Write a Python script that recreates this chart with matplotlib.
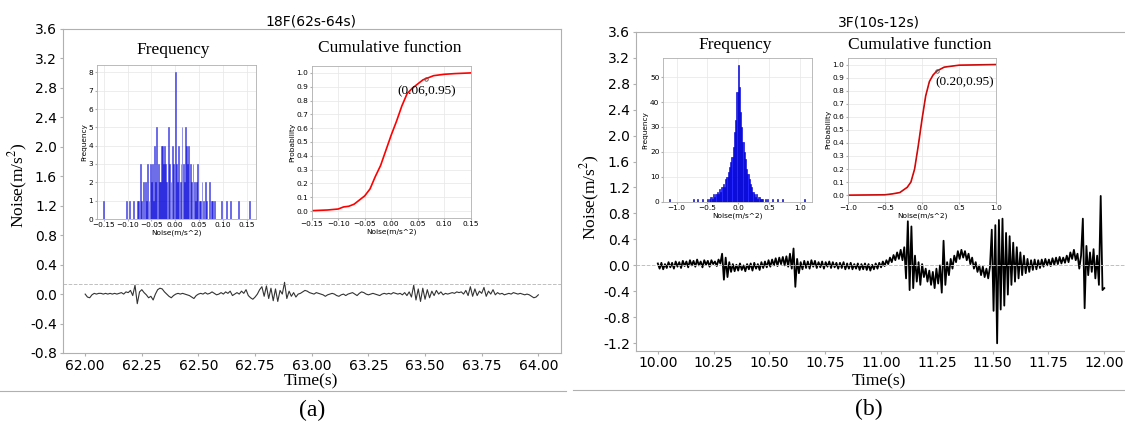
import matplotlib
matplotlib.use("Agg")
import matplotlib.pyplot as plt
import numpy as np
from matplotlib.lines import Line2D

plt.rcParams['mathtext.fontset'] = 'stix'

# ---- datos panel (a): 18F, 62s-64s ----
t0_a = 62.0
dt_a = 0.01
ruido_a = [0.0, -0.04, -0.05, -0.01, 0.01, 0.0, 0.01, 0.01, 0.0, 0.01,
           0.0, 0.01, 0.0, 0.01, 0.0, 0.01, 0.02, 0.0, 0.03, 0.02,
           0.05, -0.02, 0.12, -0.13, 0.03, 0.06, 0.02, -0.01, -0.05, -0.03,
           -0.08, 0.0, 0.06, 0.08, 0.07, 0.03, 0.0, -0.03, -0.05, -0.02,
           0.0, 0.01, 0.0, 0.01, 0.0, -0.01, -0.02, -0.04, -0.06, -0.02,
           0.0, 0.01, 0.0, 0.02, 0.0, 0.01, 0.03, 0.01, -0.01, 0.0,
           0.02, 0.0, 0.03, 0.01, 0.04, -0.02, 0.0, 0.02, 0.0, 0.04,
           0.01, 0.06, -0.02, -0.05, -0.07, -0.04, 0.0, 0.06, 0.10, -0.03,
           0.11, -0.06, 0.08, -0.09, 0.07, -0.10, 0.05, 0.0, 0.16, -0.06,
           0.04, -0.03, 0.02, -0.04, 0.0, 0.01, 0.03, 0.05, 0.04, 0.02,
           0.01, 0.0, 0.02, 0.01, 0.0, -0.01, -0.03, -0.01, 0.0, 0.01,
           0.0, -0.02, -0.03, -0.01, 0.0, -0.02, 0.0, 0.01, 0.02, 0.0,
           -0.02, 0.01, 0.03, 0.02, 0.0, -0.01, 0.0, 0.01, 0.0, -0.01,
           -0.02, 0.0, 0.01, 0.0, 0.01, 0.0, 0.02, 0.01, 0.0, 0.01,
           -0.01, 0.02, -0.02, 0.03, -0.04, 0.12, -0.08, 0.07, -0.10, 0.08,
           -0.07, 0.06, -0.05, 0.04, -0.02, 0.05, 0.0, 0.03, -0.01, 0.01,
           0.0, 0.01, 0.02, 0.01, 0.03, 0.02, 0.03, 0.0, 0.05, -0.02,
           0.10, -0.03, 0.07, -0.02, 0.04, 0.01, 0.09, -0.03, 0.04, 0.0,
           0.06, -0.01, 0.02, 0.0, 0.01, -0.01, 0.0, 0.01, 0.0, 0.02,
           0.01, 0.0, 0.01, 0.0, -0.01, 0.0, -0.01, -0.03, -0.05, -0.04,
           -0.01]
umbral_a = 0.14

hist_a_x = [-0.150, -0.103, -0.096, -0.087, -0.080, -0.077, -0.072, -0.070, -0.066, -0.063,
            -0.060, -0.058, -0.055, -0.052, -0.050, -0.048, -0.045, -0.043, -0.041, -0.039,
            -0.036, -0.033, -0.031, -0.029, -0.027, -0.025, -0.023, -0.020, -0.018, -0.015,
            -0.012, -0.009, -0.006, -0.003, 0.000, 0.003, 0.005, 0.007, 0.010, 0.012,
            0.014, 0.017, 0.019, 0.021, 0.024, 0.026, 0.028, 0.031, 0.034, 0.037,
            0.040, 0.042, 0.045, 0.047, 0.050, 0.052, 0.056, 0.059, 0.063, 0.066,
            0.071, 0.075, 0.078, 0.082, 0.097, 0.108, 0.115, 0.133, 0.155]
hist_a_n = [1, 1, 1, 1, 1, 1, 3, 1, 2, 2,
            1, 3, 1, 3, 2, 3, 1, 4, 2, 5,
            3, 2, 2, 4, 4, 3, 4, 3, 2, 5,
            3, 2, 4, 3, 8, 3, 2, 4, 2, 3,
            5, 3, 2, 5, 4, 3, 4, 3, 2, 3,
            2, 1, 2, 3, 1, 1, 2, 1, 2, 1,
            2, 1, 1, 1, 1, 1, 1, 1, 1]

cdf_a_x = [-0.15, -0.12, -0.10, -0.09, -0.08, -0.07, -0.06, -0.05, -0.04, -0.03, -0.02, -0.01,
           0.00, 0.01, 0.02, 0.03, 0.04, 0.05, 0.06, 0.07, 0.08, 0.10, 0.12, 0.15]
cdf_a_p = [0.003, 0.008, 0.015, 0.03, 0.035, 0.05, 0.08, 0.11, 0.16, 0.25, 0.33, 0.44,
           0.55, 0.65, 0.76, 0.85, 0.89, 0.92, 0.95, 0.965, 0.98, 0.99, 0.995, 1.0]
punto_a = (0.066, 0.955)
texto_a = "(0.06,0.95)"

# ---- datos panel (b): 3F, 10s-12s ----
t0_b = 10.0
dt_b = 0.008
ruido_b = [0.03, -0.05, 0.04, -0.06, 0.02, -0.04, 0.05, -0.03, 0.04, -0.05,
           0.06, -0.02, 0.05, -0.04, 0.07, -0.01, 0.06, -0.03, 0.08, 0.0,
           0.07, -0.02, 0.09, 0.0, 0.06, -0.03, 0.08, 0.01, 0.07, -0.02,
           0.08, 0.02, 0.06, -0.01, 0.09, 0.03, 0.18, -0.22, 0.12, -0.18,
           0.05, -0.10, 0.02, -0.09, 0.01, -0.08, 0.03, -0.07, 0.0, -0.09,
           0.02, -0.06, 0.03, -0.08, 0.04, -0.05, 0.02, -0.07, 0.05, -0.04,
           0.06, -0.03, 0.08, -0.02, 0.09, 0.0, 0.11, -0.01, 0.12, 0.02,
           0.13, 0.0, 0.14, -0.02, 0.18, -0.05, 0.26, -0.33, 0.10, -0.12,
           0.05, -0.06, 0.07, -0.04, 0.06, -0.05, 0.08, -0.02, 0.07, -0.04,
           0.05, -0.03, 0.06, -0.05, 0.05, -0.02, 0.06, -0.04, 0.05, -0.03,
           0.04, -0.05, 0.04, -0.04, 0.05, -0.06, 0.03, -0.05, 0.04, -0.06,
           0.02, -0.05, 0.03, -0.07, 0.02, -0.06, 0.03, -0.07, 0.02, -0.08,
           0.01, -0.06, 0.03, -0.05, 0.04, -0.03, 0.06, -0.01, 0.08, 0.02,
           0.12, 0.05, 0.16, 0.08, 0.20, 0.10, 0.24, 0.08, 0.28, -0.20,
           0.68, -0.38, 0.60, -0.35, 0.15, -0.25, 0.05, -0.30, 0.02, -0.18,
           -0.05, -0.25, -0.08, -0.30, -0.10, -0.35, -0.05, -0.28, 0.0, -0.42,
           0.38, -0.30, 0.05, -0.15, 0.10, -0.05, 0.15, 0.05, 0.22, 0.10,
           0.24, 0.12, 0.22, 0.08, 0.18, 0.02, 0.12, -0.05, 0.05, -0.10,
           0.0, -0.15, -0.02, -0.18, -0.05, -0.20, -0.02, 0.55, -0.70, 0.62,
           -1.20, 0.70, -0.68, 0.72, -0.62, 0.50, -0.45, 0.45, -0.30, 0.35,
           -0.25, 0.28, -0.20, 0.20, -0.15, 0.15, -0.12, 0.10, -0.10, 0.08,
           -0.07, 0.09, -0.06, 0.08, -0.04, 0.09, -0.02, 0.10, 0.0, 0.09,
           -0.01, 0.11, 0.01, 0.12, 0.02, 0.13, 0.03, 0.12, 0.04, 0.15,
           0.05, 0.20, 0.10, 0.24, 0.08, 0.18, -0.05, 0.15, 0.72, -0.66,
           0.30, -0.15, 0.20, -0.10, 0.25, -0.20, 0.15, -0.30, 1.07, -0.38,
           -0.35]

hist_b_x = [-1.12, -0.72, -0.66, -0.58,
            -0.50, -0.48, -0.46, -0.44, -0.42, -0.40, -0.38, -0.36, -0.34, -0.32,
            -0.30, -0.28, -0.26, -0.24, -0.22, -0.20, -0.18, -0.16, -0.14, -0.12,
            -0.10, -0.08, -0.06, -0.04, -0.02, 0.00, 0.02, 0.04, 0.06, 0.08,
            0.10, 0.12, 0.14, 0.16, 0.18, 0.20, 0.22, 0.24, 0.26, 0.28,
            0.30, 0.32, 0.34, 0.36, 0.38, 0.40, 0.44, 0.48,
            0.56, 0.64, 0.72, 1.08]
hist_b_n = [1, 1, 1, 1,
            1, 0, 1, 2, 1, 3, 2, 3, 4, 3,
            5, 4, 6, 7, 6, 9, 10, 12, 14, 16,
            18, 22, 28, 33, 44, 55, 46, 36, 30, 24,
            20, 17, 13, 11, 9, 7, 6, 4, 3, 2,
            3, 1, 2, 1, 1, 1, 1, 1,
            1, 1, 1, 1]

cdf_b_x = [-1.0, -0.5, -0.4, -0.3, -0.2, -0.15, -0.1, -0.05, 0.0, 0.05, 0.1, 0.15,
           0.2, 0.3, 0.5, 1.0]
cdf_b_p = [0.0, 0.003, 0.01, 0.02, 0.06, 0.10, 0.20, 0.38, 0.58, 0.76, 0.87, 0.92,
           0.95, 0.98, 0.995, 1.0]
punto_b = (0.20, 0.95)
texto_b = "(0.20,0.95)"

W = 1125
H = 424
serif = 'Liberation Serif'


def rect(x0, y0, x1, y1):
    # pixeles (desde arriba) -> fraccion de figura
    return [x0 / W, 1 - y1 / H, (x1 - x0) / W, (y1 - y0) / H]


def estilo_main(ax):
    for s in ax.spines.values():
        s.set_color('#b0b0b0')
    ax.tick_params(labelsize=10, color='#b0b0b0', length=2.5, pad=1.5)


def estilo_inset(ax):
    for s in ax.spines.values():
        s.set_color('#b0b0b0')
        s.set_linewidth(0.6)
    ax.tick_params(labelsize=5.3, length=1.5, pad=1, color='#b0b0b0')
    ax.grid(True, color='#e6e6e6', linewidth=0.5)
    ax.set_axisbelow(True)


fig = plt.figure(figsize=(W / 100, H / 100), dpi=100)

# ================= (a) =================
ax = fig.add_axes(rect(62.5, 29, 561, 353))
t_a = t0_a + dt_a * np.arange(len(ruido_a))
ax.plot(t_a, ruido_a, color='#333333', linewidth=0.8)
ax.axhline(umbral_a, color='#c0c0c0', linestyle='--', linewidth=0.7)
ax.set_xlim(61.9, 64.1)
ax.set_ylim(-0.8, 3.6)
ax.set_xticks(np.arange(62.0, 64.01, 0.25))
ax.set_yticks(np.arange(-0.8, 3.61, 0.4))
ax.set_xticklabels(["%.2f" % v for v in np.arange(62.0, 64.01, 0.25)])
ax.set_yticklabels(["%.1f" % v if abs(v) > 1e-9 else "0.0" for v in np.arange(-0.8, 3.61, 0.4)])
estilo_main(ax)

h1 = fig.add_axes(rect(96.5, 65, 256, 219))
h1.bar(hist_a_x, hist_a_n, width=0.0018, color='blue', alpha=0.5,
       edgecolor='#0000cc', linewidth=0.6)
h1.set_xlim(-0.165, 0.169)
h1.set_ylim(0, 8.4)
h1.set_xticks([-0.15, -0.10, -0.05, 0.0, 0.05, 0.10, 0.15])
h1.set_yticks(range(0, 9))
h1.set_xlabel("Noise(m/s^2)", fontsize=5.3, labelpad=1)
h1.set_ylabel("Frequency", fontsize=5.3, labelpad=1)
estilo_inset(h1)

c1 = fig.add_axes(rect(311.7, 66, 470.7, 218))
c1.plot(cdf_a_x, cdf_a_p, color='red', linewidth=1.2)
c1.plot(punto_a[0], punto_a[1], 'o', ms=2.5, mfc='none', mec='#555555', mew=0.6)
c1.text(0.067, 0.866, texto_a, fontsize=9.5, family=serif, ha='center', va='center')
c1.set_xlim(-0.15, 0.15)
c1.set_ylim(-0.05, 1.05)
c1.set_xticks([-0.15, -0.10, -0.05, 0.0, 0.05, 0.10, 0.15])
c1.set_yticks(np.arange(0, 1.01, 0.1))
c1.set_xlabel("Noise(m/s^2)", fontsize=5.3, labelpad=1)
c1.set_ylabel("Probability", fontsize=5.3, labelpad=1)
estilo_inset(c1)

fig.text(310.7 / W, 1 - 21.7 / H, "18F(62s-64s)", fontsize=10, ha='center', va='center')
fig.text(173 / W, 1 - 50 / H, "Frequency", fontsize=12.5, family=serif, ha='center', va='center')
fig.text(390 / W, 1 - 48 / H, "Cumulative function", fontsize=12.5, family=serif, ha='center', va='center')
fig.text(18 / W, 1 - 185 / H, "Noise(m/s$^2$)", fontsize=12.5, family=serif, rotation=90,
         ha='center', va='center')
fig.text(311 / W, 1 - 381 / H, "Time(s)", fontsize=12.5, family=serif, ha='center', va='center')
fig.text(312.5 / W, 1 - 410 / H, "(a)", fontsize=17, family=serif, ha='center', va='center')

# ================= (b) =================
bx = fig.add_axes(rect(635.5, 31.7, 1126.6, 350.7))
t_b = t0_b + dt_b * np.arange(len(ruido_b))
bx.plot(t_b, ruido_b, color='black', linewidth=1.3)
bx.axhline(0.0, color='#c0c0c0', linestyle='--', linewidth=0.7)
bx.set_xlim(9.9, 12.1)
bx.set_ylim(-1.314, 3.6)
bx.set_xticks(np.arange(10.0, 12.01, 0.25))
bx.set_xticklabels(["%.2f" % v for v in np.arange(10.0, 12.01, 0.25)])
bx.set_yticks(np.arange(-1.2, 3.61, 0.4))
bx.set_yticklabels(["%.1f" % v if abs(v) > 1e-9 else "0.0" for v in np.arange(-1.2, 3.61, 0.4)])
estilo_main(bx)
bx.spines['right'].set_visible(False)

h2 = fig.add_axes(rect(663, 58, 812, 201.7))
h2.bar(hist_b_x, hist_b_n, width=0.02, color='blue', alpha=0.85,
       edgecolor='#0000cc', linewidth=0.5)
h2.set_xlim(-1.22, 1.20)
h2.set_ylim(0, 57.7)
h2.set_xticks([-1.0, -0.5, 0.0, 0.5, 1.0])
h2.set_yticks(range(0, 51, 10))
h2.set_xlabel("Noise(m/s^2)", fontsize=5.3, labelpad=1)
h2.set_ylabel("Frequency", fontsize=5.3, labelpad=1)
estilo_inset(h2)

c2 = fig.add_axes(rect(848, 58, 996, 201.7))
c2.plot(cdf_b_x, cdf_b_p, color='red', linewidth=1.2)
c2.plot(cdf_b_x, cdf_b_p, color='#333333', linewidth=0.4, alpha=0.6)
c2.plot(punto_b[0], punto_b[1], 'o', ms=2.5, mfc='none', mec='#555555', mew=0.6)
c2.text(0.18, 0.865, texto_b, fontsize=9.5, family=serif, ha='left', va='center')
c2.set_xlim(-1.0, 1.0)
c2.set_ylim(-0.05, 1.05)
c2.set_xticks([-1.0, -0.5, 0.0, 0.5, 1.0])
c2.set_yticks(np.arange(0, 1.01, 0.1))
c2.set_xlabel("Noise(m/s^2)", fontsize=5.3, labelpad=1)
c2.set_ylabel("Probability", fontsize=5.3, labelpad=1)
estilo_inset(c2)

fig.text(879 / W, 1 - 22.7 / H, "3F(10s-12s)", fontsize=10, ha='center', va='center')
fig.text(735 / W, 1 - 45 / H, "Frequency", fontsize=12.5, family=serif, ha='center', va='center')
fig.text(920 / W, 1 - 45 / H, "Cumulative function", fontsize=12.5, family=serif, ha='center', va='center')
fig.text(590 / W, 1 - 197 / H, "Noise(m/s$^2$)", fontsize=12.5, family=serif, rotation=90,
         ha='center', va='center')
fig.text(879 / W, 1 - 381 / H, "Time(s)", fontsize=12.5, family=serif, ha='center', va='center')
fig.text(868.6 / W, 1 - 409 / H, "(b)", fontsize=17, family=serif, ha='center', va='center')

# lineas separadoras
fig.add_artist(Line2D([0, 566 / W], [1 - 391 / H, 1 - 391 / H], color='#b0b0b0', linewidth=0.8))
fig.add_artist(Line2D([573 / W, 1], [1 - 390 / H, 1 - 390 / H], color='#b0b0b0', linewidth=0.8))

fig.savefig("out.png", dpi=100)
